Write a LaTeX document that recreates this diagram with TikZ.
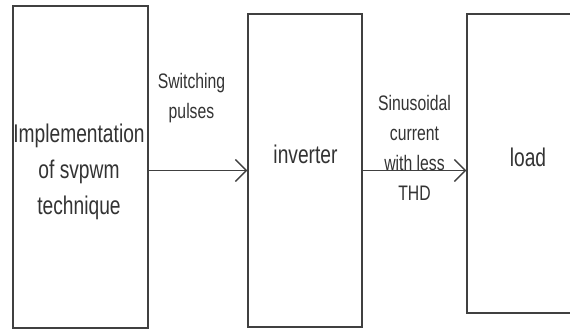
\documentclass[tikz,border=0pt]{standalone}
\usepackage{fontspec}
\setmainfont[FakeStretch=0.75]{Liberation Sans}
\usetikzlibrary{arrows.meta,positioning}
\tikzset{
  blkbox/.style={draw=black!75, line width=1.4pt, fill=white, inner sep=0pt},
  blktext/.style={text=black!80, align=center, inner sep=0pt, font=\fontsize{25.6}{36}\selectfont},
  sigtext/.style={text=black!80, align=center, inner sep=0pt, font=\fontsize{21}{30}\selectfont},
  blkline/.style={-{Straight Barb[length=11pt,width=22pt]}, draw=black!75, line width=1.4pt}
}

\begin{document}
\begin{tikzpicture}[x=1pt,y=-1pt]
  \clip (0,0) rectangle (570,329);

  % blocks
  \node[blkbox, minimum width=135pt, minimum height=322pt] (svpwm) at (80.3,167) {};
  \node[blkbox, minimum width=114pt, minimum height=313pt] (inv) at (305,170.5) {};
  \node[blkbox, minimum width=140pt, minimum height=299pt] (load) at (537,163.5) {};

  \node[blktext] (svpwmtext) at (79,172) {Implementation\\of svpwm\\technique};
  \node[blktext, anchor=base] (invtext) at (305.5,163) {inverter};
  \node[blktext, anchor=base] (loadtext) at (528,166) {load};

  % signals
  \draw[blkline] (svpwm.east |- inv.west) -- (inv.west);
  \draw[blkline] (inv.east) -- (load.west |- inv.east);

  \node[sigtext] (pulses) at (191.5,98) {Switching\\pulses};
  \node[sigtext] (current) at (414.5,148) {Sinusoidal\\current\\with less\\THD};
\end{tikzpicture}
\end{document}
